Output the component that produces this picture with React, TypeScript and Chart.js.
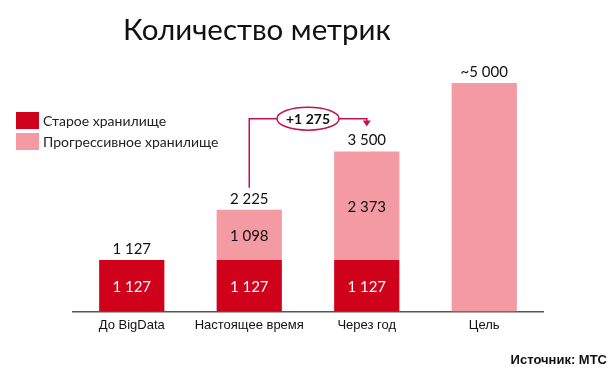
import React, { useEffect, useRef } from "react";
import { Chart, registerables } from "chart.js";

Chart.register(...registerables);

const categories = ["До BigData", "Настоящее время", "Через год", "Цель"];
const oldStorage = [1127, 1127, 1127, null];
const progressiveStorage = [null, 1098, 2373, 5000];
const totalPrefix = ["", "", "", "~"];
const seriesNames = ["Старое хранилище", "Прогрессивное хранилище"];
const deltaFrom = 1;
const deltaTo = 2;
const deltaLevel = 4220;

const DARK = "#D0021B";
const PINK = "#F39AA2";
const LINE = "#C2124B";

function fmt(n: number): string {
  const s = String(Math.round(n));
  return s.replace(/\B(?=(\d{3})+(?!\d))/g, " ");
}

function totalOf(i: number): number {
  return (oldStorage[i] || 0) + (progressiveStorage[i] || 0);
}

const overlay = {
  id: "overlay",
  afterDatasetsDraw(chart: any) {
    const ctx = chart.ctx as CanvasRenderingContext2D;
    const xs = chart.scales.x;
    const ys = chart.scales.y;
    const m0 = chart.getDatasetMeta(0);
    const m1 = chart.getDatasetMeta(1);
    ctx.save();

    // Title
    ctx.fillStyle = "#111";
    ctx.font = "29.5px Lato";
    ctx.textAlign = "left";
    ctx.textBaseline = "alphabetic";
    ctx.fillText("Количество метрик", 123, 40);

    // Legend
    const colors = [DARK, PINK];
    ctx.font = "14px Lato";
    ctx.textBaseline = "middle";
    seriesNames.forEach((name, k) => {
      const y = 112 + k * 21;
      ctx.fillStyle = colors[k];
      ctx.fillRect(16, y, 23, 17);
      ctx.fillStyle = "#222";
      ctx.fillText(name, 43, y + 9);
    });

    // Value labels
    ctx.textAlign = "center";
    ctx.font = "15px Lato";
    categories.forEach((_, i) => {
      const total = totalOf(i);
      const x = xs.getPixelForValue(i);
      ctx.fillStyle = "#111";
      ctx.fillText(totalPrefix[i] + fmt(total), x, ys.getPixelForValue(total) - 11);
      const o = oldStorage[i];
      if (o) {
        const el = m0.data[i];
        ctx.fillStyle = "#fff";
        ctx.fillText(fmt(o), x, (el.y + el.base) / 2 + 1);
        const p = progressiveStorage[i];
        if (p) {
          const el1 = m1.data[i];
          ctx.fillStyle = "#111";
          ctx.fillText(fmt(p), x, (el1.y + el1.base) / 2 + 1);
        }
      }
    });

    // Delta annotation
    const x1 = xs.getPixelForValue(deltaFrom);
    const x2 = xs.getPixelForValue(deltaTo);
    const yTop = ys.getPixelForValue(deltaLevel);
    const yStart = ys.getPixelForValue(totalOf(deltaFrom)) - 22;
    const yEnd = ys.getPixelForValue(totalOf(deltaTo)) - 25;
    ctx.strokeStyle = LINE;
    ctx.lineWidth = 1.5;
    ctx.beginPath();
    ctx.moveTo(x1, yStart);
    ctx.lineTo(x1, yTop);
    ctx.lineTo(x2, yTop);
    ctx.lineTo(x2, yEnd - 5);
    ctx.stroke();
    ctx.fillStyle = LINE;
    ctx.beginPath();
    ctx.moveTo(x2 - 4, yEnd - 6);
    ctx.lineTo(x2 + 4, yEnd - 6);
    ctx.lineTo(x2, yEnd);
    ctx.closePath();
    ctx.fill();
    const cx = (x1 + x2) / 2;
    ctx.fillStyle = "#fff";
    ctx.beginPath();
    ctx.ellipse(cx, yTop, 31, 11.5, 0, 0, Math.PI * 2);
    ctx.fill();
    ctx.stroke();
    ctx.fillStyle = "#111";
    ctx.font = "bold 14px Lato";
    const delta = totalOf(deltaTo) - totalOf(deltaFrom);
    ctx.fillText("+" + fmt(delta), cx, yTop + 1);

    // Source
    ctx.textAlign = "right";
    ctx.font = "bold 13px 'Liberation Sans'";
    ctx.fillStyle = "#111";
    ctx.fillText("Источник: МТС", 607, 360);
    ctx.restore();
  },
};

export default function App() {
  const ref = useRef<HTMLCanvasElement | null>(null);
  useEffect(() => {
    document.body.style.margin = "0";
    if (!ref.current) return;
    const chart = new Chart(ref.current, {
      type: "bar",
      data: {
        labels: categories,
        datasets: [
          { label: seriesNames[0], data: oldStorage, backgroundColor: DARK, barPercentage: 0.555, categoryPercentage: 1 },
          { label: seriesNames[1], data: progressiveStorage, backgroundColor: PINK, barPercentage: 0.555, categoryPercentage: 1 },
        ],
      },
      options: {
        animation: false,
        responsive: false,
        maintainAspectRatio: false,
        layout: { padding: { left: 73, right: 72, top: 83, bottom: 32 } },
        plugins: { legend: { display: false }, tooltip: { enabled: false }, title: { display: false } },
        scales: {
          x: {
            stacked: true,
            grid: { display: false, drawTicks: false },
            border: { display: true, color: "#555", width: 1.5 },
            ticks: { color: "#111", font: { family: "'Liberation Sans'", size: 13 }, padding: 6 },
          },
          y: { stacked: true, display: false, min: 0, max: 5000 },
        },
      },
      plugins: [overlay],
    });
    return () => chart.destroy();
  }, []);
  return (
    <div style={{ width: 615, height: 371 }}>
      <canvas ref={ref} width={615} height={371} style={{ display: "block" }} />
    </div>
  );
}
